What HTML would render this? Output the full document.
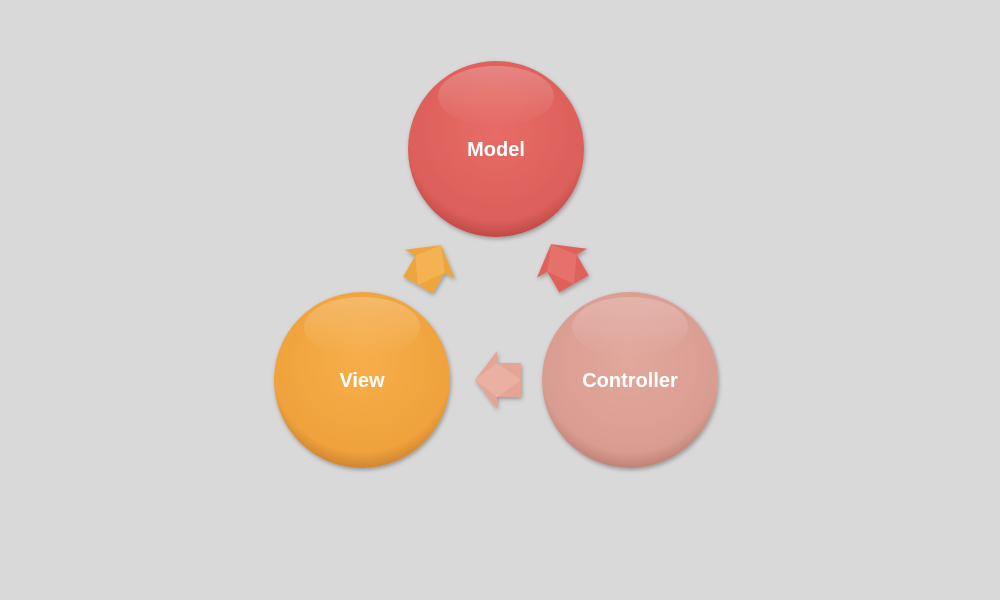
<!DOCTYPE html>
<html><head><style>
html,body{margin:0;padding:0;background:#d9d9d9;}
svg{display:block;}
text{font-family:"Liberation Sans",sans-serif;font-weight:600;font-size:20px;fill:#fff;text-anchor:middle;}
</style></head><body>
<svg width="1000" height="600" viewBox="0 0 1000 600">
<defs>
<radialGradient id="gm" cx="50%" cy="40%" r="60%"><stop offset="0" stop-color="#e86c66"/><stop offset="0.85" stop-color="#dc5f5a"/><stop offset="1" stop-color="#c04a46"/></radialGradient>
<radialGradient id="gv" cx="50%" cy="40%" r="60%"><stop offset="0" stop-color="#f7ae4a"/><stop offset="0.85" stop-color="#efa23c"/><stop offset="1" stop-color="#d08530"/></radialGradient>
<radialGradient id="gc" cx="50%" cy="40%" r="60%"><stop offset="0" stop-color="#e2a89c"/><stop offset="0.85" stop-color="#d99c90"/><stop offset="1" stop-color="#bf8276"/></radialGradient>
<linearGradient id="hl" x1="0" y1="0" x2="0" y2="1"><stop offset="0" stop-color="#fff" stop-opacity="0.22"/><stop offset="1" stop-color="#fff" stop-opacity="0"/></linearGradient>
<filter id="sh"><feDropShadow dx="1" dy="2" stdDeviation="2" flood-opacity="0.3"/></filter>
</defs>
<g filter="url(#sh)">
<circle cx="496" cy="149" r="88" fill="url(#gm)"/>
<circle cx="362" cy="380" r="88" fill="url(#gv)"/>
<circle cx="630" cy="380" r="88" fill="url(#gc)"/>
</g>
<ellipse cx="496" cy="96" rx="58" ry="30" fill="url(#hl)"/>
<ellipse cx="362" cy="327" rx="58" ry="30" fill="url(#hl)"/>
<ellipse cx="630" cy="327" rx="58" ry="30" fill="url(#hl)"/>
<text x="496" y="156">Model</text>
<text x="362" y="387">View</text>
<text x="630" y="387">Controller</text>
<g filter="url(#sh)">
<g transform="translate(521,380) rotate(180)">
<polygon points="0,-17 24,-17 24,-29 46,0 24,29 24,17 0,17" fill="#e4a596"/>
<polygon points="0,0 24,-17 46,0 24,17" fill="#eeb8aa" opacity="0.6"/>
</g>
<g transform="translate(418,285) rotate(-60)">
<polygon points="0,-17 24,-17 24,-29 46,0 24,29 24,17 0,17" fill="#efa53e"/>
<polygon points="0,0 24,-17 46,0 24,17" fill="#f6bb60" opacity="0.6"/>
</g>
<g transform="translate(574,284) rotate(-120)">
<polygon points="0,-17 24,-17 24,-29 46,0 24,29 24,17 0,17" fill="#e0605b"/>
<polygon points="0,0 24,-17 46,0 24,17" fill="#ea7a74" opacity="0.6"/>
</g>
</g>
</svg>
</body></html>
